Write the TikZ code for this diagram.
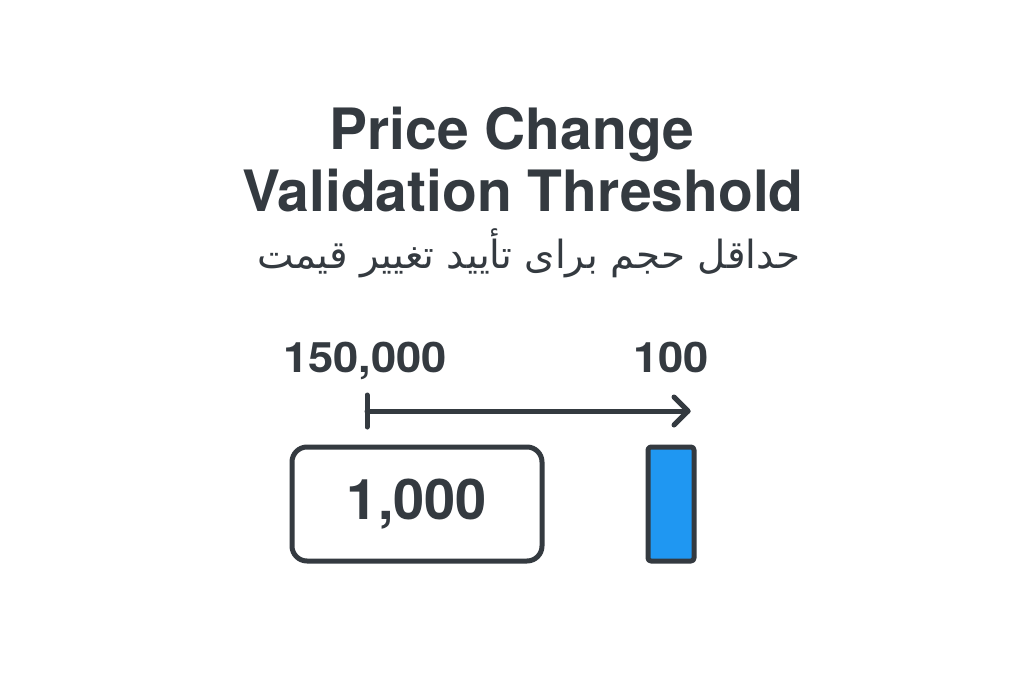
\documentclass[tikz,border=0pt]{standalone}
\usepackage{fontspec}
\setmainfont{TeX Gyre Heros}
\newfontfamily\titlefont{TeX Gyre Heros}
\newfontfamily\numfont{TeX Gyre Heros}
\newfontfamily\arabicfont[Script=Arabic]{DejaVu Sans}
\TeXXeTstate=1
\definecolor{ink}{HTML}{343A40}
\definecolor{barblue}{HTML}{1F97F2}
\tikzset{
  title/.style={text=ink, font=\titlefont\bfseries\fontsize{57}{64}\selectfont, inner sep=0pt, anchor=base},
  num/.style={text=ink, font=\numfont\bfseries\fontsize{42}{48}\selectfont, inner sep=0pt, anchor=base},
  linky/.style={draw=ink, line width=5pt, line cap=round, line join=round},
}
\begin{document}
\begin{tikzpicture}[x=1pt,y=-1pt]
\useasboundingbox[fill=white] (0,0) rectangle (1024,683);
\node[title] (t1) at (512,149) {Price Change};
\node[title] (t2) at (523,211) {Validation Threshold};
\node[text=ink, font=\arabicfont\fontsize{38.8}{44}\selectfont, inner sep=0pt, anchor=base] (t3) at (529,268) {\beginR حداقل حجم برای تأیید تغییر قیمت\endR};
\node[num, xscale=1.08] (n1) at (365,372) {150,000};
\node[num, xscale=1.08] (n2) at (671,372) {100};
\coordinate (a0) at (367,411);
\coordinate (a1) at (688,411);
\coordinate (tk0) at (367,395);
\coordinate (tk1) at (367,427);
\draw[linky] (tk0) -- (tk1);
\draw[linky] (a0) -- (a1);
\draw[linky] (674,397) -- (a1) -- (674,425);
\node[linky, rounded corners=15pt, minimum width=250pt, minimum height=114pt, inner sep=0pt] (box) at (417,504) {};
\node[num, font=\numfont\bfseries\fontsize{56}{64}\selectfont, anchor=center] (v) at (box.center) {1,000};
\node[linky, fill=barblue, rounded corners=3pt, minimum width=46pt, minimum height=114pt, inner sep=0pt] (bar) at (671,504) {};
\end{tikzpicture}
\end{document}
